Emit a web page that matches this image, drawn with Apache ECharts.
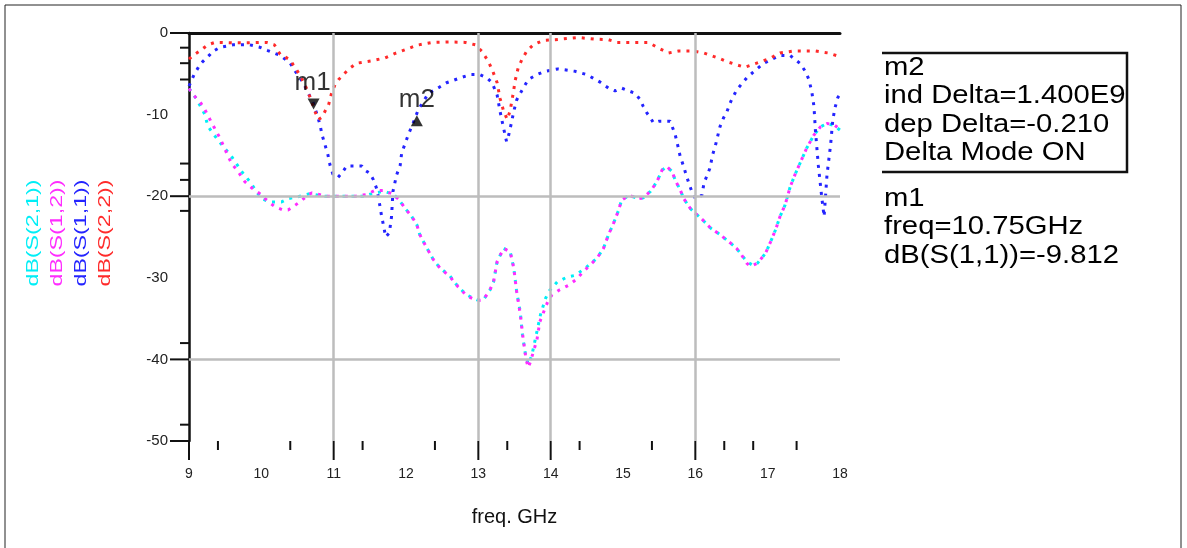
<!DOCTYPE html>
<html>
<head>
<meta charset="utf-8">
<script src="https://cdn.jsdelivr.net/npm/echarts@6/dist/echarts.min.js"></script>
<style>
  html, body { margin: 0; padding: 0; background: #fff; }
  #chart { width: 1187px; height: 548px; }
</style>
</head>
<body>
<div id="chart"></div>
<script>
// S-parameter sweep, 9 - 18 GHz, values in dB
const s21 = [
  [9.0,-6.8],[9.06,-7.5],[9.11,-8.2],[9.22,-10.0],[9.26,-11.4],[9.33,-12.3],[9.47,-13.9],[9.57,-14.9],
  [9.73,-17.0],[9.84,-18.2],[10.0,-20.3],[10.12,-20.7],[10.28,-20.7],[10.37,-20.3],[10.49,-20.1],[10.67,-19.7],
  [10.88,-20.0],[11.25,-20.0],[11.41,-20.0],[11.57,-19.6],[11.7,-19.4],[11.83,-19.8],[11.9,-20.4],[11.99,-21.5],
  [12.08,-22.5],[12.15,-23.5],[12.19,-24.7],[12.26,-25.9],[12.38,-27.8],[12.47,-28.8],[12.61,-29.8],[12.72,-31.1],
  [12.84,-32.1],[12.98,-32.7],[13.07,-32.7],[13.16,-31.5],[13.21,-30.5],[13.26,-28.0],[13.35,-26.4],[13.44,-26.8],
  [13.49,-28.8],[13.53,-31.7],[13.58,-34.2],[13.61,-37.0],[13.65,-39.3],[13.69,-40.6],[13.74,-39.5],[13.8,-37.0],
  [13.86,-34.5],[13.93,-32.5],[13.99,-31.5],[14.09,-30.5],[14.23,-29.9],[14.34,-29.7],[14.48,-28.8],[14.64,-27.6],
  [14.73,-26.4],[14.8,-24.7],[14.87,-23.3],[14.94,-21.7],[14.98,-20.5],[15.08,-19.9],[15.22,-20.3],[15.28,-20.2],
  [15.38,-19.4],[15.47,-18.2],[15.54,-16.8],[15.61,-16.4],[15.68,-17.0],[15.72,-18.0],[15.79,-19.2],[15.84,-20.3],
  [15.93,-21.5],[16.0,-22.1],[16.09,-22.8],[16.21,-23.9],[16.34,-24.7],[16.48,-25.7],[16.57,-26.4],[16.64,-27.2],
  [16.71,-28.0],[16.8,-28.5],[16.86,-28.2],[16.97,-27.0],[17.04,-25.6],[17.11,-24.1],[17.17,-22.5],[17.24,-21.1],
  [17.31,-18.9],[17.38,-17.3],[17.45,-15.9],[17.54,-14.1],[17.64,-12.5],[17.73,-11.5],[17.82,-11.1],[17.91,-11.3],
  [18.0,-11.9]
]
const s12 = [
  [9.0,-6.8],[9.06,-7.6],[9.15,-8.4],[9.22,-9.4],[9.29,-10.6],[9.38,-12.1],[9.43,-12.9],[9.52,-14.7],
  [9.59,-16.0],[9.68,-17.0],[9.77,-18.2],[9.87,-19.0],[9.98,-19.7],[10.1,-20.7],[10.19,-21.3],[10.3,-21.7],
  [10.37,-21.7],[10.47,-21.1],[10.56,-20.5],[10.65,-19.8],[10.7,-19.6],[10.9,-20.0],[11.3,-20.0],[11.45,-19.8],
  [11.57,-19.3],[11.7,-19.3],[11.83,-19.8],[11.9,-20.4],[11.99,-21.5],[12.08,-22.5],[12.15,-23.5],[12.19,-24.7],
  [12.26,-25.9],[12.38,-27.8],[12.47,-28.8],[12.61,-29.9],[12.72,-31.1],[12.84,-32.2],[12.98,-32.8],[13.07,-32.7],
  [13.16,-31.5],[13.21,-30.5],[13.26,-28.0],[13.35,-26.4],[13.44,-26.8],[13.49,-28.8],[13.53,-31.7],[13.58,-34.5],
  [13.62,-37.5],[13.66,-40.0],[13.69,-41.0],[13.72,-40.3],[13.76,-39.1],[13.81,-37.6],[13.85,-35.4],[13.92,-33.8],
  [13.97,-32.7],[14.02,-32.1],[14.12,-31.5],[14.25,-30.9],[14.34,-30.3],[14.48,-29.0],[14.64,-27.6],[14.73,-26.4],
  [14.8,-24.7],[14.87,-23.3],[14.94,-21.7],[14.98,-20.5],[15.08,-19.9],[15.22,-20.3],[15.28,-20.2],[15.38,-19.4],
  [15.47,-18.2],[15.54,-16.8],[15.61,-16.4],[15.68,-17.0],[15.72,-18.0],[15.79,-19.2],[15.84,-20.3],[15.93,-21.5],
  [16.0,-22.1],[16.09,-22.8],[16.21,-23.9],[16.34,-24.7],[16.48,-25.7],[16.57,-26.4],[16.64,-27.2],[16.71,-28.2],
  [16.76,-28.6],[16.86,-28.2],[16.97,-27.0],[17.04,-25.6],[17.11,-24.1],[17.17,-22.5],[17.24,-21.1],[17.31,-18.9],
  [17.38,-17.3],[17.45,-15.9],[17.54,-14.1],[17.64,-12.5],[17.73,-11.5],[17.82,-11.1],[17.91,-11.2],[18.0,-11.8]
]
const s11 = [
  [9.0,-6.5],[9.07,-5.1],[9.15,-3.9],[9.19,-3.5],[9.29,-2.65],[9.33,-2.25],[9.43,-1.75],[9.61,-1.45],
  [9.84,-1.45],[9.98,-1.75],[10.09,-2.15],[10.26,-2.75],[10.4,-3.7],[10.47,-4.7],[10.58,-6.1],[10.65,-7.4],
  [10.72,-8.6],[10.77,-10.0],[10.81,-11.2],[10.84,-12.5],[10.88,-13.7],[10.92,-14.9],[10.95,-16.2],[10.99,-17.3],
  [11.06,-17.7],[11.11,-17.2],[11.18,-16.3],[11.27,-16.3],[11.39,-16.3],[11.43,-16.8],[11.5,-17.2],[11.55,-18.0],
  [11.6,-19.2],[11.63,-20.7],[11.66,-22.3],[11.72,-25.0],[11.77,-24.5],[11.8,-22.5],[11.82,-19.4],[11.87,-17.4],
  [11.92,-16.2],[11.94,-14.7],[11.99,-13.5],[12.03,-12.5],[12.1,-11.0],[12.17,-9.4],[12.31,-7.4],[12.45,-6.7],
  [12.56,-6.1],[12.75,-5.5],[12.89,-5.1],[13.02,-5.1],[13.12,-5.5],[13.19,-6.1],[13.26,-7.6],[13.3,-9.6],
  [13.35,-11.7],[13.39,-13.3],[13.42,-12.5],[13.46,-10.9],[13.49,-9.6],[13.53,-8.2],[13.58,-7.4],[13.62,-6.75],
  [13.69,-5.7],[13.81,-5.1],[13.92,-4.7],[14.1,-4.4],[14.34,-4.7],[14.5,-5.1],[14.58,-5.5],[14.69,-6.05],
  [14.8,-6.75],[14.89,-7.1],[14.98,-6.75],[15.17,-7.4],[15.24,-8.2],[15.28,-9.0],[15.33,-9.8],[15.38,-10.4],
  [15.42,-11.0],[15.5,-10.8],[15.65,-10.8],[15.69,-11.7],[15.72,-12.4],[15.76,-13.9],[15.79,-15.1],[15.84,-16.4],
  [15.87,-17.3],[15.91,-18.4],[15.95,-19.4],[16.0,-20.3],[16.09,-19.9],[16.12,-18.4],[16.2,-16.6],[16.24,-14.9],
  [16.28,-13.7],[16.31,-12.6],[16.34,-11.5],[16.39,-10.4],[16.43,-9.8],[16.49,-8.4],[16.57,-7.0],[16.71,-5.5],
  [16.8,-4.8],[16.94,-3.75],[17.04,-3.3],[17.17,-2.75],[17.31,-2.75],[17.45,-3.75],[17.52,-4.7],[17.57,-5.7],
  [17.61,-7.2],[17.64,-9.0],[17.66,-11.9],[17.7,-16.2],[17.75,-20.3],[17.78,-22.5],[17.8,-20.0],[17.82,-17.4],
  [17.87,-13.7],[17.9,-10.7],[17.93,-9.2],[17.97,-7.9],[18.0,-7.5]
]
const s22 = [
  [9.0,-3.2],[9.08,-2.6],[9.15,-2.2],[9.26,-1.45],[9.36,-1.15],[9.45,-1.15],[9.6,-1.2],[9.8,-1.2],
  [10.0,-1.15],[10.07,-1.15],[10.18,-1.45],[10.26,-2.6],[10.4,-3.3],[10.44,-3.9],[10.53,-5.1],[10.6,-6.3],
  [10.68,-8.0],[10.75,-9.8],[10.79,-10.6],[10.84,-10.3],[10.88,-9.6],[10.93,-8.8],[10.97,-7.4],[11.02,-6.3],
  [11.07,-5.7],[11.21,-4.4],[11.32,-3.7],[11.53,-3.4],[11.71,-3.05],[11.85,-2.5],[11.99,-2.05],[12.15,-1.5],
  [12.36,-1.15],[12.6,-1.1],[12.82,-1.15],[12.96,-1.45],[13.05,-2.25],[13.14,-3.5],[13.2,-4.7],[13.26,-6.1],
  [13.3,-8.0],[13.35,-9.6],[13.4,-10.6],[13.44,-9.5],[13.48,-7.5],[13.51,-5.8],[13.55,-4.3],[13.6,-3.3],
  [13.67,-2.2],[13.76,-1.45],[13.9,-0.9],[14.06,-0.82],[14.38,-0.55],[14.6,-0.75],[14.8,-0.82],[14.92,-1.15],
  [15.1,-1.15],[15.35,-1.15],[15.49,-1.85],[15.63,-2.45],[15.77,-2.2],[15.97,-2.2],[16.12,-2.45],[16.34,-3.15],
  [16.43,-3.5],[16.68,-4.2],[16.83,-3.75],[17.02,-3.15],[17.17,-2.45],[17.36,-2.2],[17.66,-2.2],[17.84,-2.45],
  [18.0,-2.9]
]

// markers
const m1 = [10.75, -9.812]
const m2 = [12.15, -10.022]

// axis ticks / grid lines as drawn in the original plot
const xGridLines = [11, 13, 14, 16]
const yGridLines = [-20, -40]
const xLongTicks = [9, 11, 13, 14, 16]
const xShortTicks = [9.4, 10.4, 11.4, 12.4, 13.4, 14.4, 15.4, 16.4, 16.8, 17.4]
const yLongTicks = [0, -20, -40, -50]
const yShortTicks = [-1.8, -3.7, -5.7, -16, -18, -21.8, -38, -48]

const traceNames = ['dB(S(2,1))', 'dB(S(1,2))', 'dB(S(1,1))', 'dB(S(2,2))']
const traceColors = ['#00eef6', '#ff2cff', '#2424ff', '#ff2a2a']
const markerBox = ['m2', 'ind Delta=1.400E9', 'dep Delta=-0.210', 'Delta Mode ON']
const markerInfo = ['m1', 'freq=10.75GHz', 'dB(S(1,1))=-9.812']

const FONT = '"Liberation Sans", Arial, sans-serif'

// tick marks: [x, y, length, dir]  dir 0 = down from x axis, 1 = left of y axis
const tickData = []
xLongTicks.forEach(v => tickData.push([v, -50, 19, 0]))
xShortTicks.forEach(v => tickData.push([v, -50, 9, 0]))
yLongTicks.forEach(v => tickData.push([9, v, 19, 1]))
yShortTicks.forEach(v => tickData.push([9, v, 9, 1]))

const chart = echarts.init(document.getElementById('chart'))

const traces = [s21, s12, s11, s22].map((d, i) => ({
  name: traceNames[i],
  type: 'line',
  data: d,
  showSymbol: false,
  smooth: false,
  z: 3,
  lineStyle: { color: traceColors[i], width: 3, type: [3, 6] },
  itemStyle: { color: traceColors[i] }
}))

// text block on the right
const boxTexts = markerBox.map((t, i) => ({
  type: 'text', x: 884, y: 68 + i * 28.5, scaleX: 1.17,
  style: { text: t, font: '25px ' + FONT, fill: '#000', textVerticalAlign: 'middle' }
}))
const infoTexts = markerInfo.map((t, i) => ({
  type: 'text', x: 884, y: 199 + i * 28.5, scaleX: 1.17,
  style: { text: t, font: '25px ' + FONT, fill: '#000', textVerticalAlign: 'middle' }
}))
// vertical legend on the left
const legendTexts = traceNames.map((t, i) => ({
  type: 'text', x: 34 + i * 24, y: 233, rotation: Math.PI / 2, scaleX: 1.45,
  style: { text: t, font: '16px ' + FONT, fill: traceColors[i], textAlign: 'center', textVerticalAlign: 'middle' }
}))

chart.setOption({
  animation: false,
  grid: { left: 189, right: 347, top: 33, bottom: 107 },
  xAxis: [{
    type: 'value', min: 9, max: 18, interval: 1,
    axisLine: { show: false },
    axisTick: { show: false },
    splitLine: { show: false },
    axisLabel: { margin: 26, fontSize: 14, color: '#222', fontFamily: FONT },
    name: 'freq. GHz', nameLocation: 'middle', nameGap: 66,
    nameTextStyle: { fontSize: 20, color: '#111', fontFamily: FONT }
  }, {
    type: 'value', min: 9, max: 18, position: 'top',
    axisLine: { show: true, lineStyle: { color: '#111', width: 3 } },
    axisTick: { show: false }, axisLabel: { show: false }, splitLine: { show: false }
  }],
  yAxis: {
    type: 'value', min: -50, max: 0, interval: 10,
    axisLine: { show: true, lineStyle: { color: '#111', width: 2.5 } },
    axisTick: { show: false },
    splitLine: { show: false },
    axisLabel: { margin: 21, fontSize: 15, color: '#222', fontFamily: FONT }
  },
  series: [
    {
      type: 'line', data: [], silent: true, z: 1,
      markLine: {
        silent: true, symbol: 'none', label: { show: false },
        lineStyle: { color: '#bdbdbd', width: 2.5, type: 'solid' },
        data: xGridLines.map(v => ({ xAxis: v })).concat(yGridLines.map(v => ({ yAxis: v })))
      }
    },
    {
      type: 'custom', silent: true, clip: false, z: 4,
      data: tickData,
      renderItem: (params, api) => {
        const p = api.coord([api.value(0), api.value(1)])
        const len = api.value(2)
        const left = api.value(3) === 1
        return {
          type: 'line',
          shape: { x1: p[0], y1: p[1], x2: left ? p[0] - len : p[0], y2: left ? p[1] : p[1] + len },
          style: { stroke: '#111', lineWidth: 2 }
        }
      }
    },
    ...traces,
    {
      type: 'scatter', silent: true, z: 6,
      symbol: 'triangle', symbolSize: [12, 11],
      itemStyle: { color: '#000' },
      data: [
        { value: m1, symbolRotate: 180, symbolOffset: [-2, -9] },
        { value: m2, symbolOffset: [0, 6] }
      ]
    },
    {
      type: 'scatter', silent: true, z: 6, symbolSize: 0,
      label: { show: true, position: 'inside', fontSize: 26, color: '#000', fontFamily: FONT },
      data: [
        { value: m1, label: { formatter: 'm1', offset: [-3, -30] } },
        { value: m2, label: { formatter: 'm2', offset: [0, -15] } }
      ]
    }
  ],
  graphic: [
    { type: 'rect', shape: { x: 5, y: 5, width: 1176, height: 560 }, style: { fill: 'none', stroke: '#222', lineWidth: 1 } },
    { type: 'polyline', shape: { points: [[882, 53], [1127, 53], [1127, 172], [882, 172]] }, style: { fill: 'none', stroke: '#111', lineWidth: 2.5 } },
    ...boxTexts,
    ...infoTexts,
    ...legendTexts
  ]
})
</script>
</body>
</html>
